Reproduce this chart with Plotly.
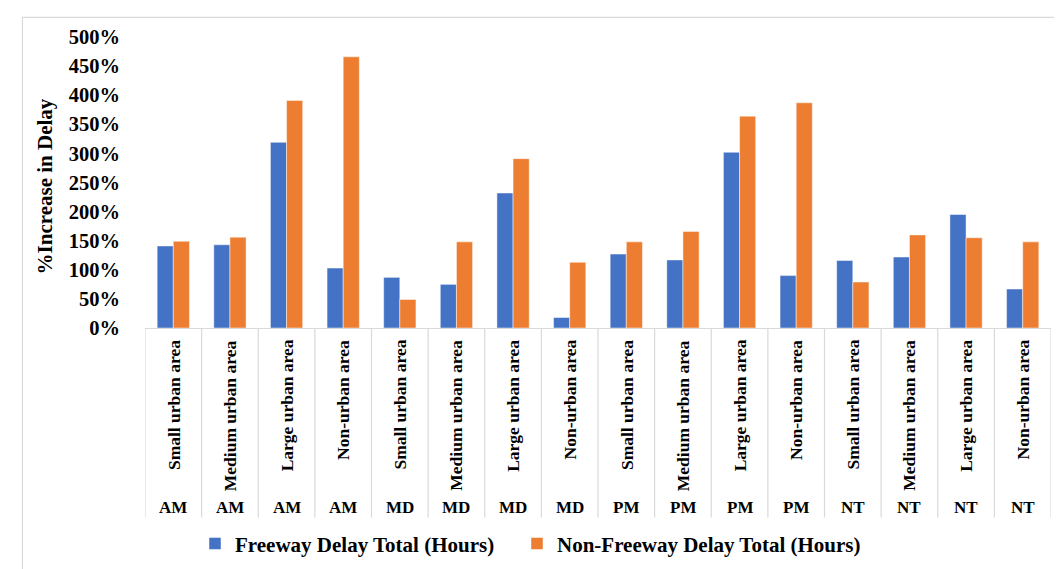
import plotly.graph_objects as go

periods = ["AM"] * 4 + ["MD"] * 4 + ["PM"] * 4 + ["NT"] * 4
areas = ["Small urban area", "Medium urban area", "Large urban area", "Non-urban area"] * 4
freeway = [141, 143, 319, 103, 87, 75, 232, 18, 127, 117, 302, 90, 116, 122, 195, 67]
non_freeway = [149, 156, 391, 466, 49, 148, 291, 113, 148, 166, 364, 387, 79, 160, 155, 148]
y_ticks = [0, 50, 100, 150, 200, 250, 300, 350, 400, 450, 500]
y_tick_labels = [f"{v}%" for v in y_ticks]

W, H = 1062, 569
L, R, T, B = 137, 19, 29, 242
plot_h = H - T - B
plot_w = W - L - R

def py(pix):
    return (H - B - pix) / plot_h

def px(pix):
    return (pix - L) / plot_w

FONT = "Liberation Serif"
BLUE = "#4472C4"
ORANGE = "#ED7D31"

keys = [f"{p}|{a}|{i}" for i, (p, a) in enumerate(zip(periods, areas))]

fig = go.Figure()
fig.add_trace(go.Bar(x=keys, y=freeway, name="Freeway Delay Total (Hours)", legend="legend",
                     marker=dict(color=BLUE, line=dict(color="rgba(255,255,255,0.6)", width=0.8))))
fig.add_trace(go.Bar(x=keys, y=non_freeway, name="Non-Freeway Delay Total (Hours)", legend="legend2",
                     marker=dict(color=ORANGE, line=dict(color="rgba(255,255,255,0.6)", width=0.8))))

annotations = []
shapes = []
for i, k in enumerate(keys):
    annotations.append(dict(x=k, xref="x", y=py(337), yref="paper", text=areas[i],
                            textangle=-90, showarrow=False, xanchor="center", yanchor="top",
                            font=dict(family=FONT, size=17.5, color="#000", weight="bold")))
    annotations.append(dict(x=k, xref="x", y=py(511), yref="paper", text=periods[i],
                            showarrow=False, xanchor="center", yanchor="middle",
                            font=dict(family=FONT, size=17, color="#000", weight="bold")))
for i in range(len(keys) + 1):
    shapes.append(dict(type="line", xref="x", yref="paper", x0=i - 0.5, x1=i - 0.5,
                       y0=0, y1=py(521), line=dict(color="#D9D9D9", width=1.2)))

# chart border
shapes.append(dict(type="rect", xref="paper", yref="paper", x0=px(14.5), x1=px(1061),
                   y0=py(600), y1=py(9), line=dict(color="#D9D9D9", width=1.2), layer="below"))

annotations.append(dict(x=px(37), xref="paper", y=py(182), yref="paper",
                        text="%Increase in Delay", textangle=-90, showarrow=False,
                        xanchor="center", yanchor="middle",
                        font=dict(family=FONT, size=21, color="#000", weight="bold")))

legend_style = dict(orientation="h", xanchor="left", y=py(548), yanchor="middle",
                    font=dict(family=FONT, size=21, color="#000", weight="bold"), itemwidth=30,
                    bgcolor="rgba(0,0,0,0)")

fig.update_layout(
    width=W, height=H,
    margin=dict(l=L, r=R, t=T, b=B, pad=0),
    paper_bgcolor="white", plot_bgcolor="white",
    barmode="group", bargap=0.43, bargroupgap=0,
    showlegend=True,
    legend=dict(x=px(187), **legend_style),
    legend2=dict(x=px(509), **legend_style),
    annotations=annotations,
    shapes=shapes,
    xaxis=dict(showticklabels=False, showgrid=False, zeroline=False, showline=True,
               linecolor="#D9D9D9", linewidth=1.2, ticks="", fixedrange=True,
               range=[-0.5, len(keys) - 0.5]),
    yaxis=dict(range=[0, 500], tickmode="array", tickvals=y_ticks, ticktext=y_tick_labels,
               showgrid=False, zeroline=False, showline=False, ticks="outside",
               ticklen=20, tickcolor="rgba(0,0,0,0)",
               tickfont=dict(family=FONT, size=20.5, color="#000", weight="bold")),
)

fig.write_html("out.html")
